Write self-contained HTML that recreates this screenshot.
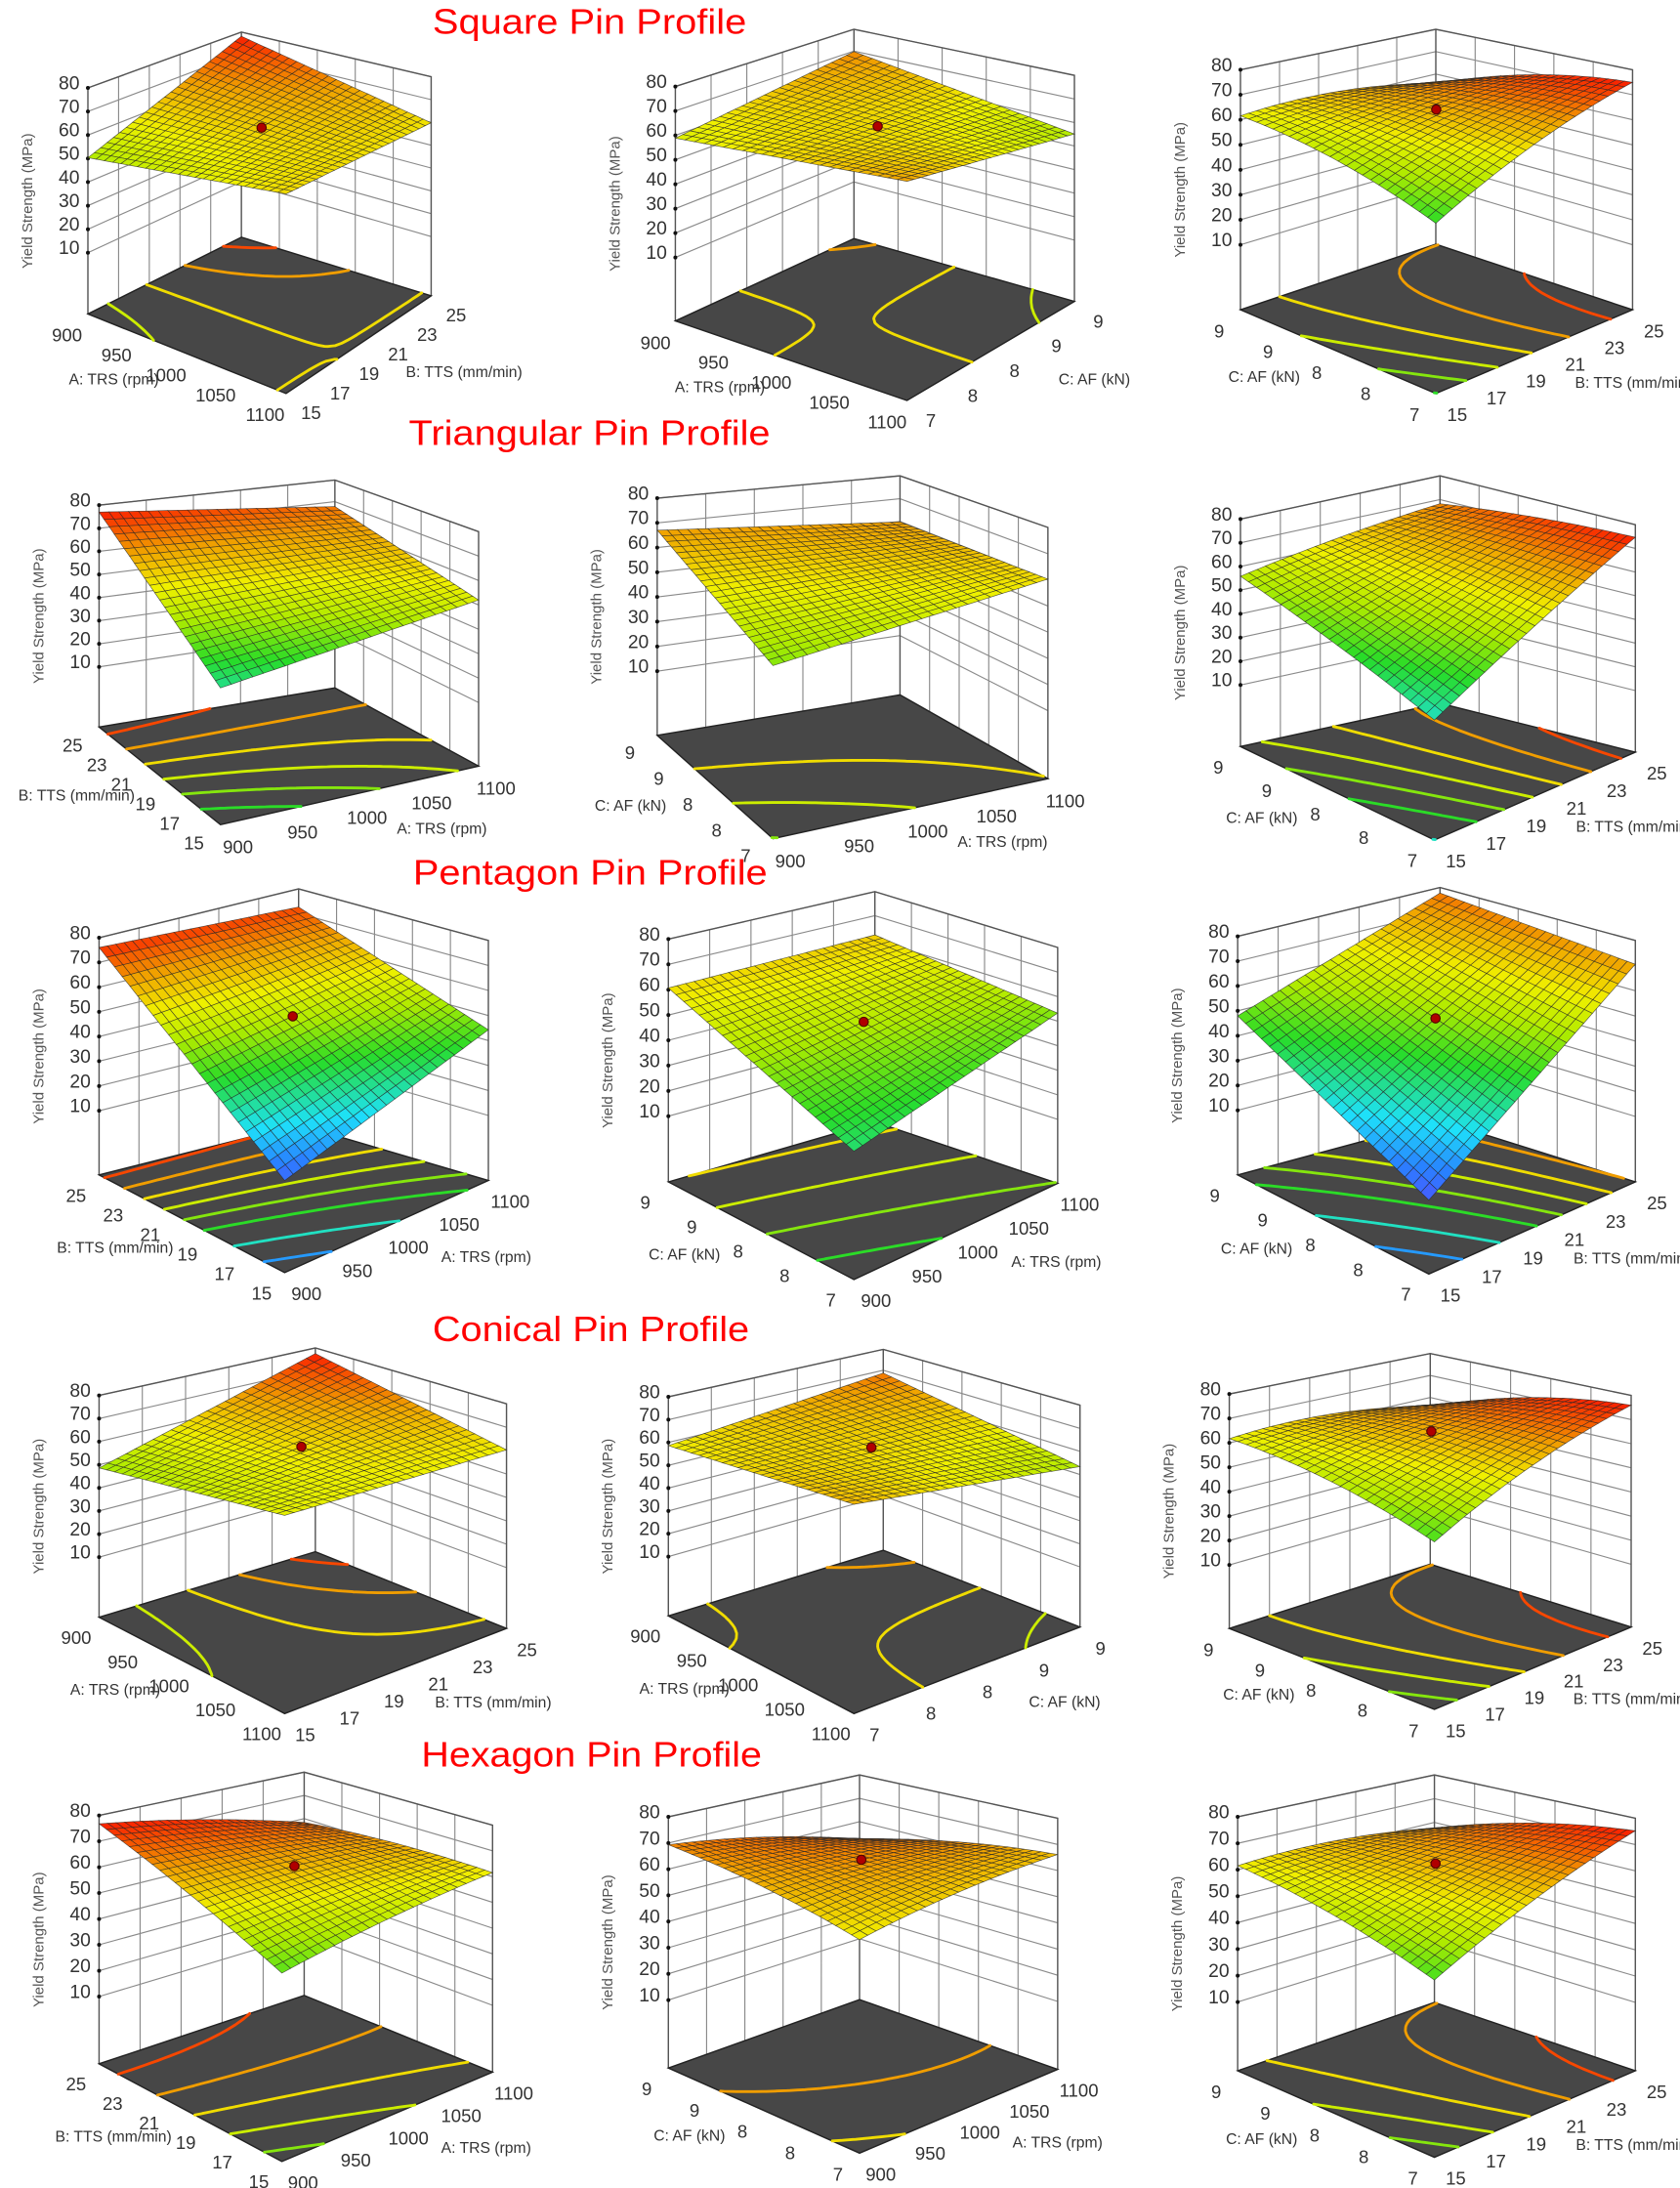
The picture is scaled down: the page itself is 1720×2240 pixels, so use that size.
<!DOCTYPE html>
<html><head><meta charset="utf-8"><style>
html,body{margin:0;padding:0;background:#fff;}
svg{display:block;}
</style></head><body>
<svg id="s" width="1720" height="2240" viewBox="0 0 1204 1568" xmlns="http://www.w3.org/2000/svg" font-family="Liberation Sans, Arial, sans-serif">
<rect width="1204" height="1568" fill="#fff"/>
<g fill="#ff0000" font-size="25">
<text x="310" y="24" textLength="225" lengthAdjust="spacingAndGlyphs">Square Pin Profile</text>
<text x="293" y="319" textLength="259" lengthAdjust="spacingAndGlyphs">Triangular Pin Profile</text>
<text x="296" y="634" textLength="254" lengthAdjust="spacingAndGlyphs">Pentagon Pin Profile</text>
<text x="310" y="961" textLength="227" lengthAdjust="spacingAndGlyphs">Conical Pin Profile</text>
<text x="302" y="1266" textLength="244" lengthAdjust="spacingAndGlyphs">Hexagon Pin Profile</text>
</g>
<g id="plots"></g>
</svg>
<script>
const AX={
 A:{name:"A: TRS (rpm)",l:["900","950","1000","1050","1100"],r:["900","950","1000","1050","1100"]},
 B:{name:"B: TTS (mm/min)",l:["25","23","21","19","17","15"],r:["15","17","19","21","23","25"]},
 C:{name:"C: AF (kN)",l:["9","9","8","8","7"],r:["7","8","8","9","9"]}
};
const YT="Yield Strength (MPa)";
const P=[
{L:[63,225],B:[173,170],R:[309,212],F:[205,282],t:[63,23,55],s:[113,26,88,139],c:[0.6,1.0,0.74,0.76],bump:0,ax:["A","B"],dot:1},
{L:[484,230],B:[612,171],R:[770,216],F:[650,287],t:[62,21,54],s:[99,37,96,130],c:[0.68,0.88,0.6,0.85],bump:0,ax:["A","C"],dot:1},
{L:[889,222],B:[1029,175],R:[1170,222],F:[1029,282],t:[50,21,50],s:[83,60,59,160],c:[0.7,0.85,1.0,0.45],bump:12,ax:["C","B"],dot:1},
{L:[71,521],B:[240,493],R:[343,549],F:[158,591],t:[362,344,381],s:[367,363,430,493],c:[1.0,0.9,0.68,0.35],bump:0,ax:["B","A"],dot:0},
{L:[471,527],B:[645,498],R:[751,558],F:[554,601],t:[357,341,378],s:[380,374,415,477],c:[0.85,0.85,0.75,0.55],bump:0,ax:["C","A"],dot:0},
{L:[889,535],B:[1032,504],R:[1172,539],F:[1028,602],t:[372,341,376],s:[413,361,385,516],c:[0.62,0.88,1.0,0.3],bump:4,ax:["C","B"],dot:0},
{L:[71,842],B:[214,806],R:[350,846],F:[204,912],t:[672,637,674],s:[679,650,738,846],c:[0.98,0.95,0.5,0.05],bump:0,ax:["B","A"],dot:1},
{L:[479,847],B:[627,804],R:[758,848],F:[612,917],t:[673,639,679],s:[708,670,726,825],c:[0.75,0.78,0.55,0.38],bump:0,ax:["C","A"],dot:1},
{L:[887,842],B:[1032,803],R:[1172,847],F:[1024,913],t:[671,636,674],s:[728,640,691,860],c:[0.5,0.9,0.85,0.02],bump:0,ax:["C","B"],dot:1},
{L:[71,1159],B:[226,1112],R:[363,1167],F:[204,1228],t:[1000,966,1006],s:[1052,970,1039,1086],c:[0.58,1.0,0.72,0.7],bump:0,ax:["A","B"],dot:1},
{L:[479,1158],B:[633,1111],R:[774,1166],F:[612,1228],t:[1001,967,1007],s:[1036,984,1051,1078],c:[0.72,0.9,0.6,0.82],bump:0,ax:["A","C"],dot:1},
{L:[881,1167],B:[1025,1121],R:[1169,1166],F:[1028,1225],t:[999,970,1000],s:[1031,1008,1007,1105],c:[0.7,0.85,1.0,0.48],bump:12,ax:["C","B"],dot:1},
{L:[71,1479],B:[218,1430],R:[353,1485],F:[202,1549],t:[1301,1270,1308],s:[1307,1306,1342,1414],c:[1.0,0.92,0.72,0.5],bump:5,ax:["B","A"],dot:1},
{L:[479,1482],B:[616,1433],R:[758,1483],F:[616,1543],t:[1302,1272,1303],s:[1322,1318,1329,1390],c:[0.88,0.9,0.8,0.72],bump:7,ax:["C","A"],dot:1},
{L:[887,1484],B:[1028,1435],R:[1172,1484],F:[1028,1546],t:[1302,1272,1303],s:[1337,1310,1312,1419],c:[0.72,0.85,1.0,0.48],bump:9,ax:["C","B"],dot:1}
];
const ST=[[0,[80,80,255]],[0.12,[40,130,255]],[0.25,[30,225,250]],[0.45,[40,220,40]],[0.6,[175,235,0]],[0.72,[240,240,0]],[0.85,[240,160,0]],[1,[250,30,0]]];
function cm(t){t=Math.max(0,Math.min(1,t));for(let i=1;i<ST.length;i++){if(t<=ST[i][0]){const a=ST[i-1],b=ST[i],f=(t-a[0])/(b[0]-a[0]);return 'rgb('+a[1].map((x,k)=>Math.round(x+(b[1][k]-x)*f)).join(',')+')';}}return 'rgb(250,30,0)';}
function bil(a,u,v){return a[3]*(1-u)*(1-v)+a[0]*u*(1-v)+a[2]*(1-u)*v+a[1]*u*v;}
const f2=x=>x.toFixed(1);
let o='';
for(const p of P){
 const X=[p.L[0],p.B[0],p.R[0],p.F[0]],Y=[p.L[1],p.B[1],p.R[1],p.F[1]];
 const tF=p.F[1]-((p.L[1]-p.t[0])+(p.R[1]-p.t[2])-(p.B[1]-p.t[1]));
 const T=[p.t[0],p.t[1],p.t[2],tF];
 const g=(u,v)=>2*(u*(1-u)+v*(1-v));
 const fx=(u,v)=>bil(X,u,v),fy=(u,v)=>bil(Y,u,v),ty=(u,v)=>bil(T,u,v);
 const sy=(u,v)=>bil(p.s,u,v)-p.bump*g(u,v);
 const cf=(u,v)=>bil(p.c,u,v)+p.bump*0.006*g(u,v);
 const wy=(u,v,z)=>{const w=(z+16)/96;const fl=fy(u,v);return fl-w*(fl-ty(u,v));};
 let wl='';
 for(let z=10;z<=80;z+=10){
  wl+=`M${f2(fx(1,0))},${f2(wy(1,0,z))}L${f2(fx(1,1))},${f2(wy(1,1,z))}L${f2(fx(0,1))},${f2(wy(0,1,z))}`;
 }
 for(let k=1;k<5;k++){const v=k/5;wl+=`M${f2(fx(1,v))},${f2(fy(1,v))}L${f2(fx(1,v))},${f2(ty(1,v))}`;
  const u=k/5;wl+=`M${f2(fx(u,1))},${f2(fy(u,1))}L${f2(fx(u,1))},${f2(ty(u,1))}`;}
 o+=`<path d="${wl}" stroke="#8a8a8a" stroke-width="0.8" fill="none"/>`;
 o+=`<path d="M${p.L[0]},${p.L[1]}L${p.L[0]},${p.t[0]}L${p.B[0]},${p.t[1]}L${p.R[0]},${p.t[2]}L${p.R[0]},${p.R[1]}M${p.B[0]},${p.B[1]}L${p.B[0]},${p.t[1]}" stroke="#555" stroke-width="1" fill="none"/>`;
 o+=`<polygon points="${p.L.join(',')} ${p.B.join(',')} ${p.R.join(',')} ${p.F.join(',')}" fill="#474747" stroke="#222" stroke-width="1"/>`;
 const N=32,lv=[0.153,0.303,0.453,0.553,0.653,0.753,0.853,0.953];
 const F=[];for(let i=0;i<=N;i++){F.push([]);for(let j=0;j<=N;j++)F[i].push(cf(i/N,j/N));}
 for(const L of lv){
  let d='';
  for(let i=0;i<N;i++)for(let j=0;j<N;j++){
   const c=[[i,j],[i+1,j],[i+1,j+1],[i,j+1]];const pts=[];
   for(let e=0;e<4;e++){const a=c[e],b=c[(e+1)%4];const va=F[a[0]][a[1]],vb=F[b[0]][b[1]];
    if((va<L)!==(vb<L)){const f=(L-va)/(vb-va);const u=(a[0]+(b[0]-a[0])*f)/N,v=(a[1]+(b[1]-a[1])*f)/N;pts.push([fx(u,v),fy(u,v)]);}}
   for(let k=0;k+1<pts.length;k+=2)d+=`M${f2(pts[k][0])},${f2(pts[k][1])}L${f2(pts[k+1][0])},${f2(pts[k+1][1])}`;
  }
  if(d)o+=`<path d="${d}" stroke="${cm(L)}" stroke-width="2" fill="none" stroke-linecap="round"/>`;
 }
 let tk='';
 for(let z=10;z<=80;z+=10){const y=wy(1,0,z);tk+=`<circle cx="${p.L[0]}" cy="${f2(y)}" r="1.4" fill="#111"/><text x="${p.L[0]-6}" y="${f2(y+1)}" text-anchor="end" font-size="13.5" fill="#333">${z}</text>`;}
 o+=tk;
 const my=(p.L[1]+p.t[0])/2;
 o+=`<text transform="translate(${p.L[0]-40},${f2(my)}) rotate(-90)" text-anchor="middle" font-size="10.5" fill="#555">${YT}</text>`;
 const cx=(X[0]+X[1]+X[2]+X[3])/4,cy=(Y[0]+Y[1]+Y[2]+Y[3])/4;
 function edge(A,B,labs,name,side){
  const dx=B[0]-A[0],dy=B[1]-A[1],l=Math.hypot(dx,dy);let nx=dy/l,ny=-dx/l;
  const mx=(A[0]+B[0])/2,mY=(A[1]+B[1])/2;if(nx*(mx-cx)+ny*(mY-cy)<0){nx=-nx;ny=-ny;}
  let s='';const n=labs.length;
  labs.forEach((t,k)=>{const f=k/(n-1);const x=A[0]+dx*f+nx*16+side*9,y=A[1]+dy*f+ny*16+5;s+=`<text x="${f2(x)}" y="${f2(y)}" text-anchor="middle" font-size="13" fill="#333">${t}</text>`;});
  const ox=side<0?-42:60,oy=side<0?-4:0;
  s+=`<text x="${f2(mx+nx*28+ox)}" y="${f2(mY+ny*28+oy)}" text-anchor="middle" font-size="11" fill="#333">${name}</text>`;
  return s;
 }
 o+=edge(p.L,p.F,AX[p.ax[0]].l,AX[p.ax[0]].name,-1);
 o+=edge(p.F,p.R,AX[p.ax[1]].r,AX[p.ax[1]].name,1);
 const M=24,q=[];
 for(let i=0;i<M;i++)for(let j=0;j<M;j++)q.push([i,j]);
 q.sort((a,b)=>(b[0]+b[1])-(a[0]+a[1]));
 let sf='';
 for(const [i,j] of q){const u0=i/M,u1=(i+1)/M,v0=j/M,v1=(j+1)/M;
  const pts=[[u0,v0],[u1,v0],[u1,v1],[u0,v1]].map(([u,v])=>f2(fx(u,v))+','+f2(sy(u,v))).join(' ');
  sf+=`<polygon points="${pts}" fill="${cm(cf((u0+u1)/2,(v0+v1)/2))}"/>`;}
 o+=`<g stroke="#262626" stroke-width="0.45" stroke-opacity="0.75">${sf}</g>`;
 if(p.dot)o+=`<circle cx="${f2(fx(.5,.5))}" cy="${f2(sy(.5,.5))}" r="3.3" fill="#b00000" stroke="#500" stroke-width="0.8"/>`;
}
document.getElementById('plots').innerHTML=o;
</script>
</body></html>
